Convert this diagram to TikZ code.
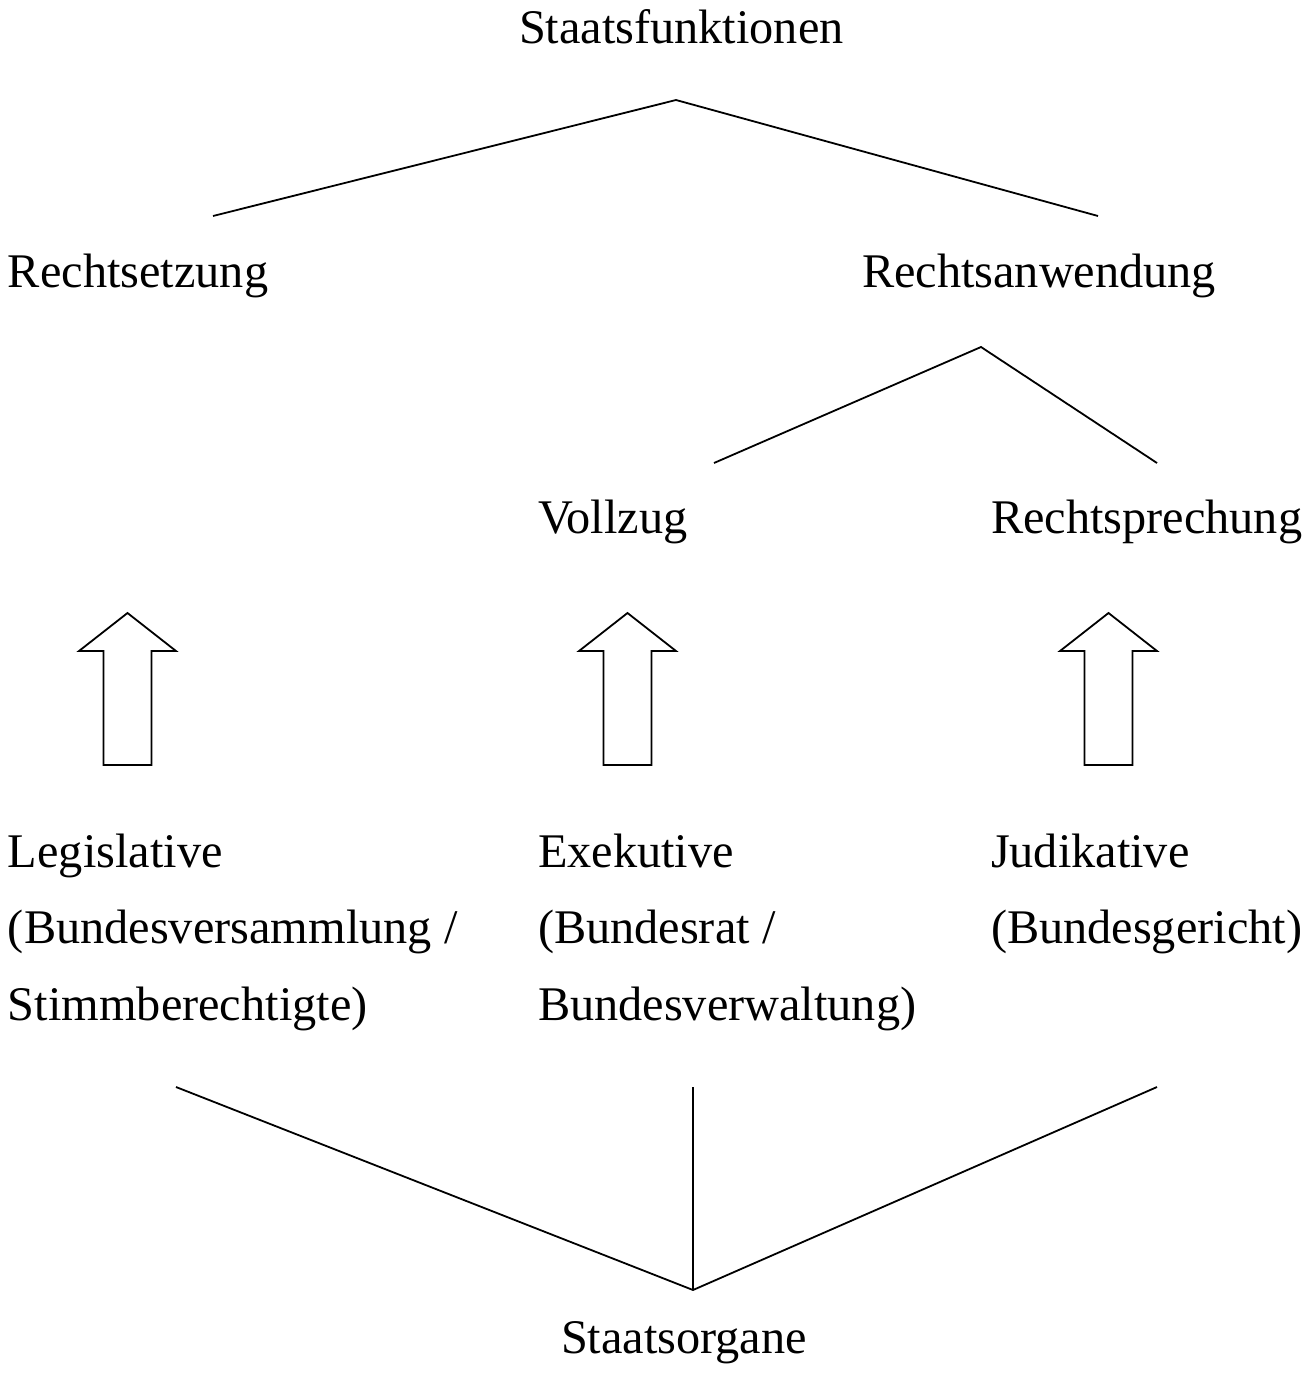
\documentclass[tikz,border=0pt]{standalone}
\usepackage{fontspec}
\setmainfont{Liberation Serif}
\tikzset{
  lbl/.style={anchor=base west, inner sep=0pt, outer sep=0pt, font=\fontsize{48.3}{58}\selectfont},
  conn/.style={line width=1.8pt, line join=miter},
  uparrow/.style={line width=1.8pt, line join=miter}
}
\begin{document}
\begin{tikzpicture}[x=1pt,y=-1pt]
\useasboundingbox (0,0) rectangle (1316,1376);
% texts
\node[lbl] (sf) at (519,43) {Staatsfunktionen};
\node[lbl] (rs) at (8,287) {Rechtsetzung};
\node[lbl] (ra) at (862,287) {Rechtsanwendung};
\node[lbl] (vz) at (538,533) {Vollzug};
\node[lbl] (rp) at (991,533) {Rechtsprechung};
\node[lbl] (leg1) at (8,867) {Legislative};
\node[lbl] (leg2) at (8,943) {(Bundesversammlung /};
\node[lbl] (leg3) at (8,1020) {Stimmberechtigte)};
\node[lbl] (exe1) at (538,867) {Exekutive};
\node[lbl] (exe2) at (538,943) {(Bundesrat /};
\node[lbl] (exe3) at (538,1020) {Bundesverwaltung)};
\node[lbl] (jud1) at (991,867) {Judikative};
\node[lbl] (jud2) at (991,943) {(Bundesgericht)};
\node[lbl] (so) at (561,1353) {Staatsorgane};
% connector points
\coordinate (sfT) at (676,100);
\coordinate (sfL) at (213,216);
\coordinate (sfR) at (1098,216);
\coordinate (raT) at (981,347);
\coordinate (raL) at (714,463);
\coordinate (raR) at (1157,463);
\coordinate (soB) at (693,1290);
\coordinate (soL) at (176,1087);
\coordinate (soM) at (693,1087);
\coordinate (soR) at (1157,1087);
\draw[conn] (sfL) -- (sfT) -- (sfR);
\draw[conn] (raL) -- (raT) -- (raR);
\draw[conn] (soL) -- (soB) -- (soR);
\draw[conn] (soM) -- (soB);
% block arrows
\coordinate (a1) at (127.5,613);
\coordinate (a2) at (627.5,613);
\coordinate (a3) at (1108.5,613);
\draw[uparrow] (a1) -- ++(48.5,38) -- ++(-24.5,0) -- ++(0,114) -- ++(-48,0) -- ++(0,-114) -- ++(-24.5,0) -- cycle;
\draw[uparrow] (a2) -- ++(48.5,38) -- ++(-24.5,0) -- ++(0,114) -- ++(-48,0) -- ++(0,-114) -- ++(-24.5,0) -- cycle;
\draw[uparrow] (a3) -- ++(48.5,38) -- ++(-24.5,0) -- ++(0,114) -- ++(-48,0) -- ++(0,-114) -- ++(-24.5,0) -- cycle;
\end{tikzpicture}
\end{document}
